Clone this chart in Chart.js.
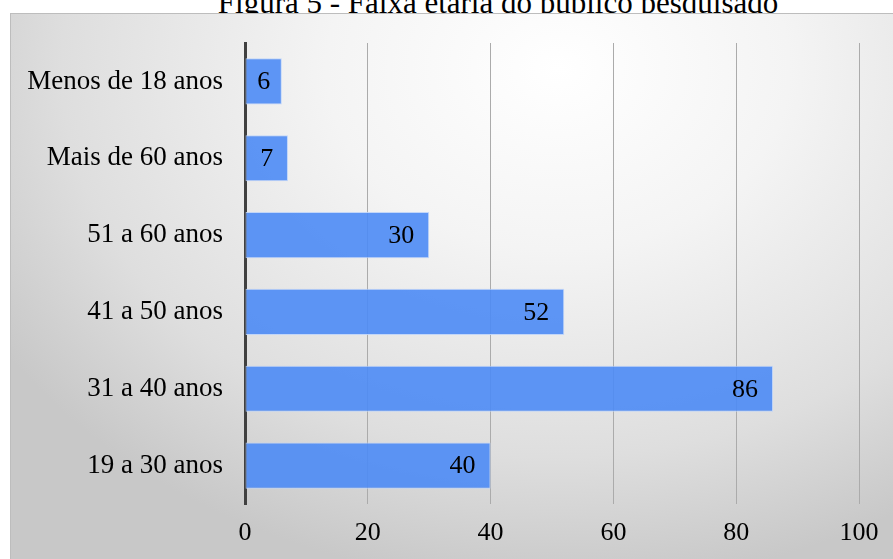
<!DOCTYPE html>
<html>
<head>
<meta charset="utf-8">
<script src="https://cdn.jsdelivr.net/npm/chart.js@4.4.1/dist/chart.umd.min.js"></script>
<style>
  html, body { margin:0; padding:0; background:#fff; width:893px; height:559px; overflow:hidden; }
  #title {
    position:absolute; left:498px; top:-13px; transform:translateX(-50%);
    font:31px 'Liberation Serif', 'Times New Roman', serif; line-height:1; white-space:nowrap; color:#000;
  }
  #box {
    position:absolute; left:10px; top:13px; width:883px; height:546px; box-sizing:border-box;
    border:1px solid #bdbdbd; border-right:none; border-bottom:none;
    background: radial-gradient(ellipse 75% 95% at 62% 10%, #ffffff 0%, #f4f4f4 35%, #dedede 75%, #c8c8c8 100%);
  }
  #chart { position:absolute; left:0; top:0; }
</style>
</head>
<body>
<div id="title">Figura 5 - Faixa etária do público pesquisado</div>
<div id="box"><canvas id="chart" width="883" height="546"></canvas></div>
<script>
// Data
const ageLabels = ["Menos de 18 anos", "Mais de 60 anos", "51 a 60 anos", "41 a 50 anos", "31 a 40 anos", "19 a 30 anos"];
const ageCounts = [6, 7, 30, 52, 86, 40];
const xTicks = [0, 20, 40, 60, 80, 100];

const serif = "'Liberation Serif', 'Times New Roman', serif";

// draws value labels at the inner end of each bar
const valueLabels = {
  id: 'valueLabels',
  afterDatasetsDraw(chart) {
    const ctx = chart.ctx;
    const meta = chart.getDatasetMeta(0);
    ctx.save();
    ctx.font = '26px ' + serif;
    ctx.fillStyle = '#000';
    ctx.textBaseline = 'middle';
    ctx.textAlign = 'right';
    meta.data.forEach((bar, i) => {
      const txt = String(ageCounts[i]);
      const w = ctx.measureText(txt).width;
      const x = Math.max(bar.x - 15, (bar.base + bar.x) / 2 + w / 2);
      ctx.fillText(txt, x, bar.y + 1);
    });
    ctx.restore();
  }
};

new Chart(document.getElementById('chart'), {
  type: 'bar',
  data: {
    labels: ageLabels,
    datasets: [{
      data: ageCounts,
      backgroundColor: 'rgba(76,139,245,0.9)',
      borderColor: 'rgba(190,212,250,0.9)',
      borderWidth: 1,
      borderSkipped: false,
      categoryPercentage: 1,
      barPercentage: 0.6
    }]
  },
  options: {
    indexAxis: 'y',
    responsive: false,
    animation: false,
    layout: { padding: { top: 29, right: 35, left: 0, bottom: 0 } },
    plugins: { legend: { display: false }, tooltip: { enabled: false }, title: { display: false } },
    scales: {
      x: {
        min: 0, max: 100,
        afterBuildTicks: (s) => { s.ticks = xTicks.map(v => ({ value: v })); },
        afterFit: (s) => { s.height = 56; s.paddingLeft = 0; s.paddingRight = 0; },
        grid: { color: '#ababab', lineWidth: 1, drawTicks: false },
        border: { display: false },
        ticks: { color: '#000', font: { family: serif, size: 26 }, padding: 14 }
      },
      y: {
        afterFit: (s) => { s.width = 234; s.paddingTop = 0; s.paddingBottom = 0; },
        grid: { display: false, drawTicks: false },
        border: { display: true, color: '#404040', width: 3 },
        ticks: { color: '#000', font: { family: serif, size: 27 }, padding: 22 }
      }
    }
  },
  plugins: [valueLabels]
});
</script>
</body>
</html>
